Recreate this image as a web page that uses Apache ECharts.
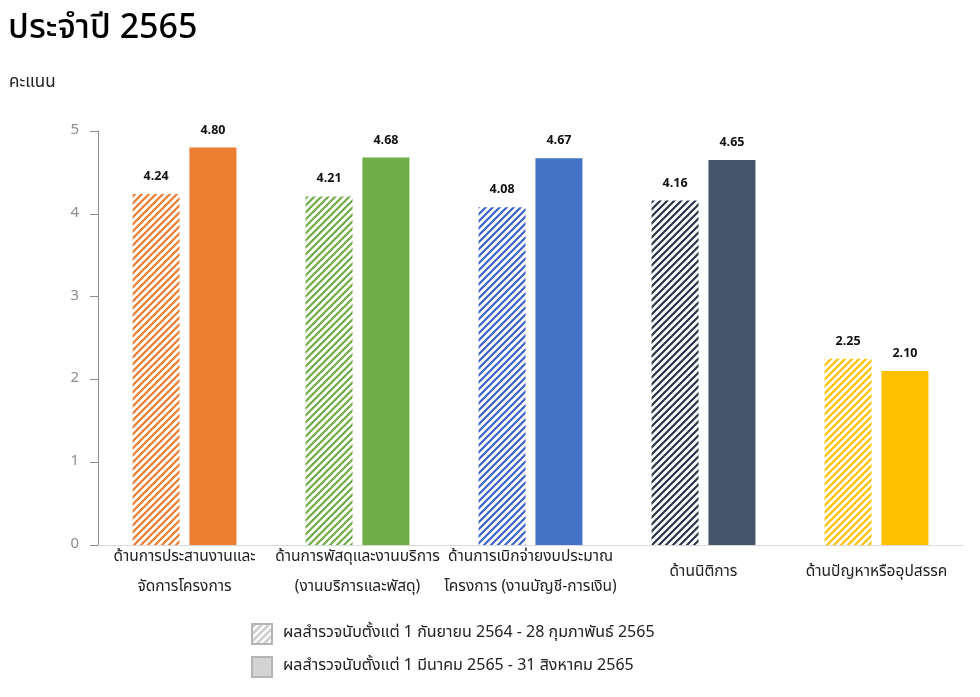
<!DOCTYPE html>
<html><head><meta charset="utf-8">
<script src="https://cdn.jsdelivr.net/npm/echarts@6/dist/echarts.min.js"></script>
<style>html,body{margin:0;padding:0;background:#fff}#c{width:980px;height:697px}</style>
</head><body><div id="c"></div>
<script>
const categories = ["ด้านการประสานงานและ\nจัดการโครงการ","ด้านการพัสดุและงานบริการ\n(งานบริการและพัสดุ)","ด้านการเบิกจ่ายงบประมาณ\nโครงการ (งานบัญชี-การเงิน)","ด้านนิติการ","ด้านปัญหาหรืออุปสรรค"];
const period1 = [4.24, 4.21, 4.08, 4.16, 2.25];
const period2 = [4.80, 4.68, 4.67, 4.65, 2.10];
const solidColors = ["#ED7D31","#70AD47","#4472C4","#44546A","#FFC000"];
const hatchColors = ["#ED7D31","#70AD47","#3A64C8","#2A3548","#FFC000"];
const seriesNames = ["ผลสำรวจนับตั้งแต่ 1 กันยายน 2564 - 28 กุมภาพันธ์ 2565","ผลสำรวจนับตั้งแต่ 1 มีนาคม 2565 - 31 สิงหาคม 2565"];
const yTicks = [0,1,2,3,4,5];

function hatch(color, bg){
  const s = 7, c = document.createElement('canvas');
  c.width = s; c.height = s;
  const g = c.getContext('2d');
  if (bg){ g.fillStyle = bg; g.fillRect(0,0,s,s); }
  g.strokeStyle = color; g.lineWidth = 2.2;
  g.beginPath();
  g.moveTo(-1, s+1); g.lineTo(s+1, -1);
  g.moveTo(-1, 1); g.lineTo(1, -1);
  g.moveTo(s-1, s+1); g.lineTo(s+1, s-1);
  g.stroke();
  return {image: c, repeat: 'repeat'};
}
const FONT = "'Noto Sans Thai','Tahoma','Leelawadee UI','Noto Sans',sans-serif";
const chart = echarts.init(document.getElementById('c'), null, {renderer:'canvas'});
const labelOpt = {show:true, position:'top', distance:10, color:'#111', fontSize:12.5, fontWeight:'bold', fontFamily:FONT, formatter: p => p.value.toFixed(2)};
chart.setOption({
  animation:false,
  textStyle:{fontFamily:FONT},
  title:[
    {text:'ประจำปี 2565', left:3, top:9, textStyle:{fontSize:34, fontWeight:500, color:'#000', fontFamily:FONT}},
    {text:'คะแนน', left:4, top:70, textStyle:{fontSize:17, fontWeight:'normal', color:'#222', fontFamily:FONT}}
  ],
  legend:{
    orient:'vertical', left:246, top:618, itemWidth:20, itemHeight:20, itemGap:11,
    textStyle:{fontSize:16, color:'#222', fontFamily:FONT, padding:[0,0,0,6]},
    data:[
      {name:seriesNames[0], icon:'rect', itemStyle:{color:hatch('#ffffff','#cfcfcf'), borderColor:'#b5b5b5', borderWidth:2}},
      {name:seriesNames[1], icon:'rect', itemStyle:{color:'#d3d3d3', borderColor:'#b5b5b5', borderWidth:2}}
    ]
  },
  grid:{left:98, right:17, top:131, bottom:152, containLabel:false},
  xAxis:{
    type:'category', data:categories,
    axisLine:{lineStyle:{color:'#d9d9d9', width:1}}, axisTick:{show:false},
    axisLabel:{interval:0, fontSize:15.5, color:'#222', lineHeight:30, verticalAlign:'middle', margin:28, fontFamily:FONT}
  },
  yAxis:{
    type:'value', min:yTicks[0], max:yTicks[yTicks.length-1], interval:1,
    splitLine:{show:false},
    axisLine:{show:true, lineStyle:{color:'#8c8c8c'}},
    axisTick:{show:true, length:8, lineStyle:{color:'#8c8c8c'}},
    axisLabel:{fontSize:15, color:'#8c8c8c', margin:19, fontFamily:FONT}
  },
  series:[
    {name:seriesNames[0], type:'bar', barWidth:47, barGap:'21%',
     itemStyle:{color:hatch('#cccccc')},
     label:labelOpt,
     data: period1.map((v,i)=>({value:v, itemStyle:{color:hatch(hatchColors[i])}}))},
    {name:seriesNames[1], type:'bar', barWidth:47, barGap:'21%',
     itemStyle:{color:'#d3d3d3'},
     label:labelOpt,
     data: period2.map((v,i)=>({value:v, itemStyle:{color:solidColors[i]}}))}
  ]
});
</script></body></html>
